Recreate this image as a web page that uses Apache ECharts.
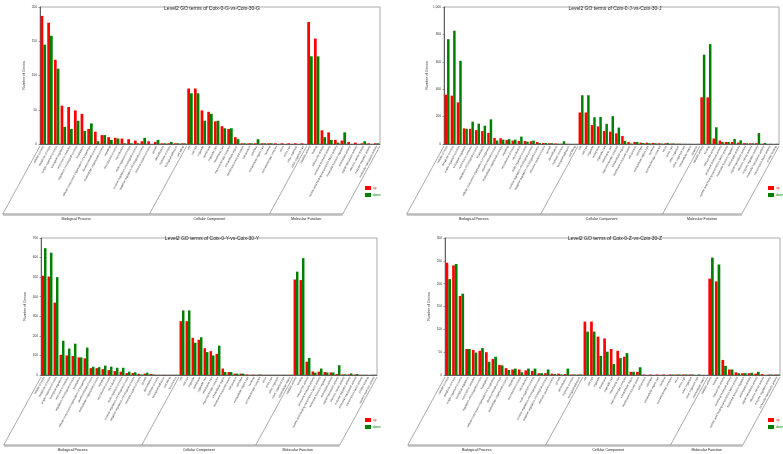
<!DOCTYPE html>
<html>
<head>
<meta charset="utf-8">
<script src="https://cdn.jsdelivr.net/npm/echarts@6/dist/echarts.min.js"></script>
<style>
  html, body { margin: 0; padding: 0; background: #fff; }
  #main { width: 783px; height: 454px; }
</style>
</head>
<body>
<div id="main"></div>
<script>
// GO level2 terms, longest list; each panel uses the first n of each group
const termsBP = ['cellular process', 'metabolic process', 'single-organism process', 'biological regulation',
  'response to stimulus', 'regulation of biological process', 'localization',
  'cellular component organization or biogenesis', 'developmental process', 'multicellular organismal process',
  'signaling', 'reproductive process', 'reproduction', 'multi-organism process',
  'positive regulation of biological process', 'negative regulation of biological process',
  'immune system process', 'growth', 'detoxification', 'rhythmic process', 'biological adhesion',
  'cell killing', 'locomotion']
const termsCC = ['cell', 'cell part', 'organelle', 'membrane', 'organelle part', 'membrane part',
  'macromolecular complex', 'extracellular region', 'membrane-enclosed lumen', 'cell junction', 'symplast',
  'extracellular region part', 'nucleoid', 'supramolecular complex', 'virion', 'virion part',
  'other organism', 'other organism part', 'extracellular matrix', 'synapse']
const termsMF = ['catalytic activity', 'binding', 'transporter activity', 'structural molecule activity',
  'nucleic acid binding transcription factor activity', 'molecular function regulator', 'antioxidant activity',
  'signal transducer activity', 'electron carrier activity', 'enzyme regulator activity',
  'molecular transducer activity', 'transcription factor activity', 'protein binding',
  'nutrient reservoir activity', 'toxin activity']
const groupNames = ['Biological Process', 'Cellular Component', 'Molecular Function']

// Coix-0-G vs Coix-30-G
const gUpBP = [187,177,123,56,54,49,44,22,18,13,10,9,8,7,5,4,4,3,1,1,1,1]
const gDownBP = [145,158,110,25,22,34,19,30,4,13,6,8,1,1,1,9,0,6,1,3,1,1]
const gUpCC = [81,81,49,47,33,26,22,10,1,1,1,1,1,1,1,1,1,1]
const gDownCC = [74,74,34,44,34,23,23,7,1,1,7,1,1,0,0,0,0,0]
const gUpMF = [178,154,20,17,6,5,3,2,1,1,1]
const gDownMF = [128,128,10,6,2,17,0,0,4,0,1]

// Coix-0-J vs Coix-30-J
const jUpBP = [360,353,304,114,111,101,94,81,44,42,30,25,22,22,20,15,7,6,4,2,1,0]
const jDownBP = [765,827,607,111,163,148,133,180,25,32,35,32,54,17,25,7,7,6,2,20,0,1]
const jUpCC = [230,230,138,128,95,90,78,58,15,15,10,10,8,5,4,3,2,1,1,0]
const jDownCC = [356,356,195,198,147,203,120,23,3,15,7,5,5,3,8,4,2,1,0,1]
const jUpMF = [341,340,40,25,15,15,10,6,5,6,1,0,0]
const jDownMF = [652,729,122,15,15,37,27,5,5,80,7,1,1]

// Coix-0-Y vs Coix-30-Y
const yUpBP = [507,503,370,103,100,97,90,85,35,35,30,25,20,17,10,10,6,7,5,1,1,1,1]
const yDownBP = [648,625,500,175,135,160,90,140,42,40,48,43,37,37,17,14,2,12,3,1,1,1,1]
const yUpCC = [275,275,190,180,137,122,108,33,15,7,7,3,2,2,1,1,1,1,1]
const yDownCC = [330,330,165,193,117,100,150,15,15,7,7,1,1,2,1,1,1,1,1]
const yUpMF = [488,485,68,18,17,15,13,5,3,3,2,1,1,1]
const yDownMF = [528,597,87,12,33,13,13,50,3,8,5,1,0,1]

// Coix-0-Z vs Coix-30-Z
const zUpBP = [246,240,173,57,55,53,50,35,22,15,12,12,10,9,4,4,3,3,2,1,1]
const zDownBP = [210,243,178,57,49,59,29,40,21,11,14,6,14,14,4,12,2,1,14,1,1]
const zUpCC = [117,117,84,80,57,53,40,7,7,1,1,1,1,1,1,1,1,0,0]
const zDownCC = [95,95,42,51,24,37,48,7,17,0,0,0,0,1,1,1,1,1,0]
const zUpMF = [211,205,33,12,6,4,4,3,2,1,1]
const zDownMF = [257,242,20,12,4,4,5,7,0,1,1]

const panels = [
  { name: 'G', up: [gUpBP, gUpCC, gUpMF], down: [gDownBP, gDownCC, gDownMF], max: 200, step: 50,
    grid: { left: 40, top: 7, width: 340, height: 137 }, titleX: 207, titleY: 1, legend: [360, 181] },
  { name: 'J', up: [jUpBP, jUpCC, jUpMF], down: [jDownBP, jDownCC, jDownMF], max: 1000, step: 200,
    grid: { left: 444, top: 7, width: 335, height: 137 }, titleX: 610, titleY: 1, legend: [763, 181] },
  { name: 'Y', up: [yUpBP, yUpCC, yUpMF], down: [yDownBP, yDownCC, yDownMF], max: 700, step: 100,
    grid: { left: 41, top: 238, width: 336, height: 137 }, titleX: 207, titleY: 231, legend: [360, 413] },
  { name: 'Z', up: [zUpBP, zUpCC, zUpMF], down: [zDownBP, zDownCC, zDownMF], max: 300, step: 50,
    grid: { left: 445, top: 238, width: 335, height: 137 }, titleX: 610, titleY: 231, legend: [763, 413] },
]

const FONT = 'Liberation Sans'
const RED = '#ff0000'
const GREEN = '#008000'
const ROT = 62

let chart = echarts.init(document.getElementById('main'))

let option = {
  animation: false,
  backgroundColor: '#fff',
  textStyle: { fontFamily: FONT },
  title: [], grid: [], xAxis: [], yAxis: [], series: [], legend: [],
}

panels.forEach((p, i) => {
  let cats = [].concat(termsBP.slice(0, p.up[0].length), termsCC.slice(0, p.up[1].length), termsMF.slice(0, p.up[2].length))
  option.title.push({
    text: 'Level2 GO terms of Coix-0-' + p.name + '-vs-Coix-30-' + p.name,
    left: p.titleX, top: p.titleY, textAlign: 'center',
    textStyle: { fontSize: 5, fontWeight: 'normal', color: '#222', fontFamily: FONT },
  })
  option.grid.push(Object.assign({ show: true, borderColor: '#aaa', borderWidth: 1, containLabel: false }, p.grid))
  option.xAxis.push({
    type: 'category', gridIndex: i, data: cats,
    axisLine: { lineStyle: { color: '#444', width: 0.8 } },
    axisTick: { length: 1.5, lineStyle: { color: '#444', width: 0.5 } },
    axisLabel: { interval: 0, rotate: ROT, fontSize: 2.8, color: '#333', margin: 2, fontFamily: FONT },
  })
  option.yAxis.push({
    type: 'value', gridIndex: i, min: 0, max: p.max, interval: p.step,
    name: 'Number of Genes', nameLocation: 'middle', nameGap: 14,
    nameTextStyle: { fontSize: 3.6, color: '#333', fontFamily: FONT },
    axisLine: { show: true, lineStyle: { color: '#444', width: 0.8 } },
    axisTick: { show: true, length: 1.5, lineStyle: { color: '#444', width: 0.5 } },
    axisLabel: { fontSize: 3.2, color: '#333', margin: 3, fontFamily: FONT },
    splitLine: { show: false },
  })
  option.series.push({
    name: 'up', type: 'bar', xAxisIndex: i, yAxisIndex: i,
    data: [].concat(p.up[0], p.up[1], p.up[2]),
    itemStyle: { color: RED }, barGap: '0%', barCategoryGap: '18%',
  })
  option.series.push({
    name: 'down', type: 'bar', xAxisIndex: i, yAxisIndex: i,
    data: [].concat(p.down[0], p.down[1], p.down[2]),
    itemStyle: { color: GREEN }, barGap: '0%', barCategoryGap: '18%',
  })
  option.legend.push({
    left: p.legend[0], top: p.legend[1], orient: 'vertical',
    itemWidth: 6, itemHeight: 4, itemGap: 3, icon: 'rect',
    textStyle: { fontSize: 3.2, fontFamily: FONT, padding: [0, 0, 0, -3] },
    data: [{ name: 'up', textStyle: { color: RED } }, { name: 'down', textStyle: { color: GREEN } }],
  })
})

chart.setOption(option)

// slanted group dividers, base line and group names, placed on the axes' own pixels
let graphics = []
const DROP = 70
const SHIFT = DROP / Math.tan(ROT * Math.PI / 180)
panels.forEach((p, i) => {
  let sizes = p.up.map(a => a.length)
  let c0 = chart.convertToPixel({ xAxisIndex: i }, 0)
  let c1 = chart.convertToPixel({ xAxisIndex: i }, 1)
  let band = c1 - c0
  let axisY = chart.convertToPixel({ yAxisIndex: i }, 0)
  let ks = [0, sizes[0], sizes[0] + sizes[1], sizes[0] + sizes[1] + sizes[2]]
  let xs = ks.map(k => c0 - band / 2 + k * band)
  let yb = axisY + DROP
  xs.forEach(x => {
    graphics.push({ type: 'line', silent: true,
      shape: { x1: x, y1: axisY + 2, x2: x - SHIFT, y2: yb },
      style: { stroke: '#555', lineWidth: 0.5 } })
  })
  graphics.push({ type: 'line', silent: true,
    shape: { x1: xs[0] - SHIFT, y1: yb + 1.2, x2: xs[3] - SHIFT, y2: yb + 1.2 },
    style: { stroke: '#ccc', lineWidth: 1.5 } })
  graphics.push({ type: 'line', silent: true,
    shape: { x1: xs[0] - SHIFT, y1: yb, x2: xs[3] - SHIFT, y2: yb },
    style: { stroke: '#555', lineWidth: 0.6 } })
  for (let g = 0; g < 3; g++) {
    graphics.push({ type: 'text', silent: true,
      x: (xs[g] + xs[g + 1]) / 2 - SHIFT, y: yb + 5,
      style: { text: groupNames[g], fontSize: 3.6, fontFamily: FONT, fill: '#222',
        textAlign: 'center', textVerticalAlign: 'middle' } })
  }
})
chart.setOption({ graphic: graphics })
</script>
</body>
</html>
